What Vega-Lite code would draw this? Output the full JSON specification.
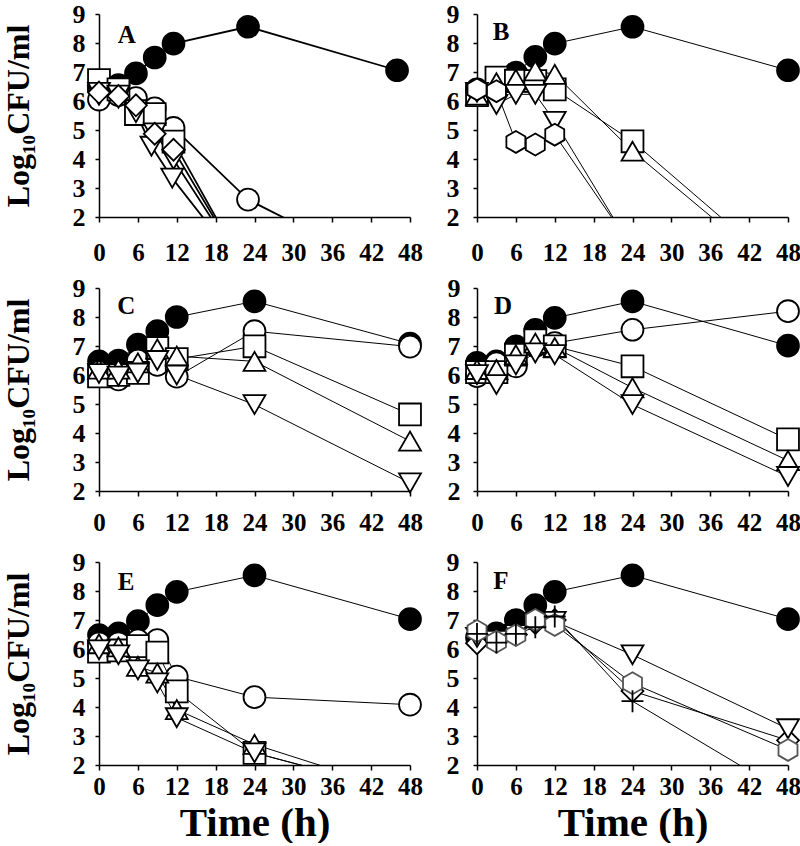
{
"$schema": "https://vega.github.io/schema/vega-lite/v6.json",
"background": "white",
"padding": {"left": 2, "top": 1, "right": 0, "bottom": 0},
"datasets": {
"pts": [
{"p":"A","s":"ctrl","t":0,"v":6.45},{"p":"A","s":"ctrl","t":3,"v":6.55},{"p":"A","s":"ctrl","t":5.7,"v":6.95},{"p":"A","s":"ctrl","t":8.6,"v":7.5},{"p":"A","s":"ctrl","t":11.5,"v":7.98},{"p":"A","s":"ctrl","t":23,"v":8.56},{"p":"A","s":"ctrl","t":46,"v":7.06},
{"p":"A","s":"circ","t":0,"v":6.05},{"p":"A","s":"circ","t":3,"v":6.2},{"p":"A","s":"circ","t":5.7,"v":6.1},{"p":"A","s":"circ","t":8.6,"v":5.75},{"p":"A","s":"circ","t":11.5,"v":5.07},{"p":"A","s":"circ","t":23,"v":2.6},{"p":"A","s":"circ","t":46,"v":0},
{"p":"A","s":"sq","t":0,"v":6.72},{"p":"A","s":"sq","t":3,"v":6.4},{"p":"A","s":"sq","t":5.7,"v":5.55},{"p":"A","s":"sq","t":8.6,"v":5.55},{"p":"A","s":"sq","t":11.5,"v":4.6},{"p":"A","s":"sq","t":23,"v":0},
{"p":"A","s":"td2","t":0,"v":6.2},{"p":"A","s":"td2","t":3,"v":6.1},{"p":"A","s":"td2","t":5.7,"v":5.7},{"p":"A","s":"td2","t":8.6,"v":4.9},{"p":"A","s":"td2","t":11.5,"v":3.98},{"p":"A","s":"td2","t":23,"v":0},
{"p":"A","s":"td","t":0,"v":6.3},{"p":"A","s":"td","t":3,"v":6.2},{"p":"A","s":"td","t":5.7,"v":5.6},{"p":"A","s":"td","t":8.1,"v":4.44},{"p":"A","s":"td","t":11.3,"v":3.34},{"p":"A","s":"td","t":23,"v":0},
{"p":"A","s":"dia","t":0,"v":6.29},{"p":"A","s":"dia","t":3,"v":6.17},{"p":"A","s":"dia","t":5.7,"v":5.85},{"p":"A","s":"dia","t":8.6,"v":4.87},{"p":"A","s":"dia","t":11.5,"v":4.32},{"p":"A","s":"dia","t":23,"v":0},

{"p":"B","s":"ctrl","t":0,"v":6.4},{"p":"B","s":"ctrl","t":3,"v":6.5},{"p":"B","s":"ctrl","t":6,"v":6.98},{"p":"B","s":"ctrl","t":9,"v":7.52},{"p":"B","s":"ctrl","t":12,"v":7.98},{"p":"B","s":"ctrl","t":24,"v":8.56},{"p":"B","s":"ctrl","t":48,"v":7.06},
{"p":"B","s":"sq","t":0,"v":6.2},{"p":"B","s":"sq","t":3,"v":6.81},{"p":"B","s":"sq","t":6,"v":6.7},{"p":"B","s":"sq","t":9,"v":6.69},{"p":"B","s":"sq","t":12,"v":6.4},{"p":"B","s":"sq","t":24,"v":4.61},{"p":"B","s":"sq","t":48,"v":0},
{"p":"B","s":"tu","t":0,"v":6.2},{"p":"B","s":"tu","t":3,"v":6.63},{"p":"B","s":"tu","t":6,"v":6.75},{"p":"B","s":"tu","t":9,"v":7.04},{"p":"B","s":"tu","t":12,"v":6.92},{"p":"B","s":"tu","t":24,"v":4.27},{"p":"B","s":"tu","t":48,"v":-0.2},
{"p":"B","s":"td","t":0,"v":6.3},{"p":"B","s":"td","t":3,"v":5.88},{"p":"B","s":"td","t":6,"v":6.23},{"p":"B","s":"td","t":9,"v":6.23},{"p":"B","s":"td","t":12,"v":5.3},{"p":"B","s":"td","t":24,"v":0.88},
{"p":"B","s":"hex","t":0,"v":6.4},{"p":"B","s":"hex","t":3,"v":6.34},{"p":"B","s":"hex","t":6,"v":4.59},{"p":"B","s":"hex","t":9,"v":4.5},{"p":"B","s":"hex","t":12,"v":4.84},{"p":"B","s":"hex","t":24,"v":0.94},

{"p":"C","s":"ctrl","t":0,"v":6.47},{"p":"C","s":"ctrl","t":3,"v":6.5},{"p":"C","s":"ctrl","t":6,"v":7.05},{"p":"C","s":"ctrl","t":9,"v":7.51},{"p":"C","s":"ctrl","t":12,"v":8.0},{"p":"C","s":"ctrl","t":24,"v":8.54},{"p":"C","s":"ctrl","t":48,"v":7.08},
{"p":"C","s":"circ","t":0,"v":6.1},{"p":"C","s":"circ","t":3,"v":5.85},{"p":"C","s":"circ","t":6,"v":6.5},{"p":"C","s":"circ","t":9,"v":6.35},{"p":"C","s":"circ","t":12,"v":5.94},{"p":"C","s":"circ","t":24,"v":7.51},{"p":"C","s":"circ","t":48,"v":6.98},
{"p":"C","s":"sq","t":0,"v":5.95},{"p":"C","s":"sq","t":3,"v":6.0},{"p":"C","s":"sq","t":6,"v":6.07},{"p":"C","s":"sq","t":9,"v":6.93},{"p":"C","s":"sq","t":12,"v":6.55},{"p":"C","s":"sq","t":24,"v":6.99},{"p":"C","s":"sq","t":48,"v":4.64},
{"p":"C","s":"tu","t":0,"v":6.2},{"p":"C","s":"tu","t":3,"v":6.2},{"p":"C","s":"tu","t":6,"v":6.42},{"p":"C","s":"tu","t":9,"v":6.9},{"p":"C","s":"tu","t":12,"v":6.65},{"p":"C","s":"tu","t":24,"v":6.47},{"p":"C","s":"tu","t":48,"v":3.72},
{"p":"C","s":"td","t":0,"v":6.05},{"p":"C","s":"td","t":3,"v":5.96},{"p":"C","s":"td","t":6,"v":6.07},{"p":"C","s":"td","t":9,"v":6.5},{"p":"C","s":"td","t":12,"v":6.0},{"p":"C","s":"td","t":24,"v":4.98},{"p":"C","s":"td","t":48,"v":2.28},

{"p":"D","s":"ctrl","t":0,"v":6.42},{"p":"D","s":"ctrl","t":3,"v":6.47},{"p":"D","s":"ctrl","t":6,"v":6.99},{"p":"D","s":"ctrl","t":9,"v":7.56},{"p":"D","s":"ctrl","t":12,"v":7.97},{"p":"D","s":"ctrl","t":24,"v":8.54},{"p":"D","s":"ctrl","t":48,"v":7.01},
{"p":"D","s":"circ","t":0,"v":5.96},{"p":"D","s":"circ","t":3,"v":6.4},{"p":"D","s":"circ","t":6,"v":6.3},{"p":"D","s":"circ","t":9,"v":7.0},{"p":"D","s":"circ","t":12,"v":7.1},{"p":"D","s":"circ","t":24,"v":7.56},{"p":"D","s":"circ","t":48,"v":8.2},
{"p":"D","s":"sq","t":0,"v":6.1},{"p":"D","s":"sq","t":3,"v":6.1},{"p":"D","s":"sq","t":6,"v":6.7},{"p":"D","s":"sq","t":9,"v":7.2},{"p":"D","s":"sq","t":12,"v":6.99},{"p":"D","s":"sq","t":24,"v":6.3},{"p":"D","s":"sq","t":48,"v":3.78},
{"p":"D","s":"tu","t":0,"v":6.19},{"p":"D","s":"tu","t":3,"v":6.19},{"p":"D","s":"tu","t":6,"v":6.7},{"p":"D","s":"tu","t":9,"v":7.1},{"p":"D","s":"tu","t":12,"v":6.95},{"p":"D","s":"tu","t":24,"v":5.56},{"p":"D","s":"tu","t":48,"v":3.05},
{"p":"D","s":"td","t":0,"v":6.01},{"p":"D","s":"td","t":3,"v":5.67},{"p":"D","s":"td","t":6,"v":6.35},{"p":"D","s":"td","t":9,"v":6.76},{"p":"D","s":"td","t":12,"v":6.7},{"p":"D","s":"td","t":24,"v":4.98},{"p":"D","s":"td","t":48,"v":2.5},

{"p":"E","s":"ctrl","t":0,"v":6.48},{"p":"E","s":"ctrl","t":3,"v":6.54},{"p":"E","s":"ctrl","t":6,"v":6.96},{"p":"E","s":"ctrl","t":9,"v":7.51},{"p":"E","s":"ctrl","t":12,"v":7.97},{"p":"E","s":"ctrl","t":24,"v":8.54},{"p":"E","s":"ctrl","t":48,"v":7.03},
{"p":"E","s":"circ","t":0,"v":6.2},{"p":"E","s":"circ","t":3,"v":6.2},{"p":"E","s":"circ","t":6,"v":6.3},{"p":"E","s":"circ","t":9,"v":6.31},{"p":"E","s":"circ","t":12,"v":5.05},{"p":"E","s":"circ","t":24,"v":4.34},{"p":"E","s":"circ","t":48,"v":4.08},
{"p":"E","s":"sq","t":0,"v":5.91},{"p":"E","s":"sq","t":3,"v":5.95},{"p":"E","s":"sq","t":6,"v":6.1},{"p":"E","s":"sq","t":9,"v":5.88},{"p":"E","s":"sq","t":12,"v":4.54},{"p":"E","s":"sq","t":24,"v":2.42},{"p":"E","s":"sq","t":48,"v":1.0},
{"p":"E","s":"tu","t":0,"v":6.18},{"p":"E","s":"tu","t":3,"v":6.07},{"p":"E","s":"tu","t":6,"v":5.4},{"p":"E","s":"tu","t":9,"v":5.17},{"p":"E","s":"tu","t":12,"v":3.91},{"p":"E","s":"tu","t":24,"v":2.71},{"p":"E","s":"tu","t":48,"v":1.0},
{"p":"E","s":"td","t":0,"v":5.97},{"p":"E","s":"td","t":3,"v":5.8},{"p":"E","s":"td","t":6,"v":5.28},{"p":"E","s":"td","t":9,"v":4.83},{"p":"E","s":"td","t":12,"v":3.63},{"p":"E","s":"td","t":24,"v":2.42},{"p":"E","s":"td","t":48,"v":1.0},

{"p":"F","s":"ctrl","t":0,"v":6.4},{"p":"F","s":"ctrl","t":3,"v":6.54},{"p":"F","s":"ctrl","t":6,"v":7.0},{"p":"F","s":"ctrl","t":9,"v":7.51},{"p":"F","s":"ctrl","t":12,"v":7.97},{"p":"F","s":"ctrl","t":24,"v":8.54},{"p":"F","s":"ctrl","t":48,"v":7.03},
{"p":"F","s":"dia","t":0,"v":6.2},{"p":"F","s":"dia","t":3,"v":6.3},{"p":"F","s":"dia","t":6,"v":6.5},{"p":"F","s":"dia","t":9,"v":6.9},{"p":"F","s":"dia","t":12,"v":7.0},{"p":"F","s":"dia","t":24,"v":4.55},{"p":"F","s":"dia","t":48,"v":2.85},
{"p":"F","s":"td","t":0,"v":6.4},{"p":"F","s":"td","t":3,"v":6.3},{"p":"F","s":"td","t":6,"v":6.5},{"p":"F","s":"td","t":9,"v":6.9},{"p":"F","s":"td","t":12,"v":6.95},{"p":"F","s":"td","t":24,"v":5.8},{"p":"F","s":"td","t":48,"v":3.25},
{"p":"F","s":"hexF","t":0,"v":6.62},{"p":"F","s":"hexF","t":3,"v":6.25},{"p":"F","s":"hexF","t":6,"v":6.48},{"p":"F","s":"hexF","t":9,"v":7.0},{"p":"F","s":"hexF","t":12,"v":6.83},{"p":"F","s":"hexF","t":24,"v":4.82},{"p":"F","s":"hexF","t":48,"v":2.52},
{"p":"F","s":"plus","t":0,"v":6.52},{"p":"F","s":"plus","t":3,"v":6.22},{"p":"F","s":"plus","t":6,"v":6.52},{"p":"F","s":"plus","t":9,"v":6.75},{"p":"F","s":"plus","t":12,"v":7.12},{"p":"F","s":"plus","t":24,"v":4.2},{"p":"F","s":"plus","t":48,"v":1.0}
],
"lab": [
{"p":"A","t":4.3,"v":8.27},{"p":"B","t":3.7,"v":8.38},{"p":"C","t":4.2,"v":8.38},{"p":"D","t":4.0,"v":8.38},{"p":"E","t":4.2,"v":8.3},{"p":"F","t":3.7,"v":8.35}
]
},
"columns": 2,
"spacing": {"row": 71, "column": 67},
"bounds": "flush",
"concat": [
{"width":311,"height":203,"data":{"name":"pts"},
 "encoding":{
  "x":{"field":"t","type":"quantitative","scale":{"domain":[0,48],"nice":false,"zero":false},"axis":{"values":[0,6,12,18,24,30,36,42,48],"title":null,"labelPadding":18}},
  "y":{"field":"v","type":"quantitative","scale":{"domain":[2,9],"nice":false,"zero":false},"axis":{"values":[2,3,4,5,6,7,8,9],"title":"Log₁₀CFU/ml","titleFontSize":32,"titlePadding":37,"labelPadding":10}}},
 "layer":[
  {"transform":[{"filter":"datum.p=='A'"}],"mark":{"type":"line","color":"black","strokeWidth":1.8,"clip":true},"encoding":{"detail":{"field":"s"},"order":{"field":"t"}}},
  {"transform":[{"filter":"datum.p=='A' && datum.v>=2"}],"mark":{"type":"point","opacity":1},
   "encoding":{
    "shape":{"field":"s","type":"nominal","legend":null,"scale":{"domain":["ctrl","circ","sq","tu","td","td2","dia","hex","hexF","plus"],"range":["circle","circle","square","triangle-up","triangle-down","triangle-down","diamond","M0,-1L0.866,-0.5L0.866,0.5L0,1L-0.866,0.5L-0.866,-0.5Z","M0,-1L0.866,-0.5L0.866,0.5L0,1L-0.866,0.5L-0.866,-0.5Z","M-1,0L1,0M0,-1L0,1"]}},
    "fill":{"field":"s","type":"nominal","legend":null,"scale":{"domain":["ctrl","circ","sq","tu","td","td2","dia","hex","hexF","plus"],"range":["black","white","white","white","white","white","white","white","white","transparent"]}},
    "stroke":{"field":"s","type":"nominal","legend":null,"scale":{"domain":["ctrl","circ","sq","tu","td","td2","dia","hex","hexF","plus"],"range":["black","black","black","black","black","black","black","black","#555555","black"]}},
    "strokeWidth":{"field":"s","type":"nominal","legend":null,"scale":{"domain":["ctrl","circ","sq","tu","td","td2","dia","hex","hexF","plus"],"range":[1.8,1.8,1.8,1.8,1.8,1.8,1.8,1.5,1,0.9]}},
    "size":{"field":"s","type":"nominal","legend":null,"scale":{"domain":["ctrl","circ","sq","tu","td","td2","dia","hex","hexF","plus"],"range":[480,480,320,450,450,450,480,480,480,50]}}}},
  {"data":{"name":"lab"},"transform":[{"filter":"datum.p=='A'"}],"mark":{"type":"text","font":"Liberation Serif","fontWeight":"bold","fontSize":25,"color":"black","align":"center","baseline":"middle"},"encoding":{"text":{"field":"p"}}}
 ]},
{"width":311,"height":203,"data":{"name":"pts"},
 "encoding":{
  "x":{"field":"t","type":"quantitative","scale":{"domain":[0,48],"nice":false,"zero":false},"axis":{"values":[0,6,12,18,24,30,36,42,48],"title":null,"labelPadding":18}},
  "y":{"field":"v","type":"quantitative","scale":{"domain":[2,9],"nice":false,"zero":false},"axis":{"values":[2,3,4,5,6,7,8,9],"title":null,"labelPadding":14}}},
 "layer":[
  {"transform":[{"filter":"datum.p=='B'"}],"mark":{"type":"line","color":"black","strokeWidth":1,"clip":true},"encoding":{"detail":{"field":"s"},"order":{"field":"t"}}},
  {"transform":[{"filter":"datum.p=='B' && datum.v>=2"}],"mark":{"type":"point","opacity":1},
   "encoding":{
    "shape":{"field":"s","type":"nominal","legend":null,"scale":{"domain":["ctrl","circ","sq","tu","td","td2","dia","hex","hexF","plus"],"range":["circle","circle","square","triangle-up","triangle-down","triangle-down","diamond","M0,-1L0.866,-0.5L0.866,0.5L0,1L-0.866,0.5L-0.866,-0.5Z","M0,-1L0.866,-0.5L0.866,0.5L0,1L-0.866,0.5L-0.866,-0.5Z","M-1,0L1,0M0,-1L0,1"]}},
    "fill":{"field":"s","type":"nominal","legend":null,"scale":{"domain":["ctrl","circ","sq","tu","td","td2","dia","hex","hexF","plus"],"range":["black","white","white","white","white","white","white","white","white","transparent"]}},
    "stroke":{"field":"s","type":"nominal","legend":null,"scale":{"domain":["ctrl","circ","sq","tu","td","td2","dia","hex","hexF","plus"],"range":["black","black","black","black","black","black","black","black","#555555","black"]}},
    "strokeWidth":{"field":"s","type":"nominal","legend":null,"scale":{"domain":["ctrl","circ","sq","tu","td","td2","dia","hex","hexF","plus"],"range":[1.5,1.5,1.5,1.5,1.5,1.5,1.5,1.5,1,0.9]}},
    "size":{"field":"s","type":"nominal","legend":null,"scale":{"domain":["ctrl","circ","sq","tu","td","td2","dia","hex","hexF","plus"],"range":[480,480,320,450,450,450,480,480,480,50]}}}},
  {"data":{"name":"lab"},"transform":[{"filter":"datum.p=='B'"}],"mark":{"type":"text","font":"Liberation Serif","fontWeight":"bold","fontSize":25,"color":"black","align":"center","baseline":"middle"},"encoding":{"text":{"field":"p"}}}
 ]},
{"width":311,"height":203,"data":{"name":"pts"},
 "encoding":{
  "x":{"field":"t","type":"quantitative","scale":{"domain":[0,48],"nice":false,"zero":false},"axis":{"values":[0,6,12,18,24,30,36,42,48],"title":null,"labelPadding":14}},
  "y":{"field":"v","type":"quantitative","scale":{"domain":[2,9],"nice":false,"zero":false},"axis":{"values":[2,3,4,5,6,7,8,9],"title":"Log₁₀CFU/ml","titleFontSize":32,"titlePadding":37,"labelPadding":10}}},
 "layer":[
  {"transform":[{"filter":"datum.p=='C'"}],"mark":{"type":"line","color":"black","strokeWidth":1,"clip":true},"encoding":{"detail":{"field":"s"},"order":{"field":"t"}}},
  {"transform":[{"filter":"datum.p=='C' && datum.v>=2"}],"mark":{"type":"point","opacity":1},
   "encoding":{
    "shape":{"field":"s","type":"nominal","legend":null,"scale":{"domain":["ctrl","circ","sq","tu","td","td2","dia","hex","hexF","plus"],"range":["circle","circle","square","triangle-up","triangle-down","triangle-down","diamond","M0,-1L0.866,-0.5L0.866,0.5L0,1L-0.866,0.5L-0.866,-0.5Z","M0,-1L0.866,-0.5L0.866,0.5L0,1L-0.866,0.5L-0.866,-0.5Z","M-1,0L1,0M0,-1L0,1"]}},
    "fill":{"field":"s","type":"nominal","legend":null,"scale":{"domain":["ctrl","circ","sq","tu","td","td2","dia","hex","hexF","plus"],"range":["black","white","white","white","white","white","white","white","white","transparent"]}},
    "stroke":{"field":"s","type":"nominal","legend":null,"scale":{"domain":["ctrl","circ","sq","tu","td","td2","dia","hex","hexF","plus"],"range":["black","black","black","black","black","black","black","black","#555555","black"]}},
    "strokeWidth":{"field":"s","type":"nominal","legend":null,"scale":{"domain":["ctrl","circ","sq","tu","td","td2","dia","hex","hexF","plus"],"range":[1.5,1.5,1.5,1.5,1.5,1.5,1.5,1.5,1,0.9]}},
    "size":{"field":"s","type":"nominal","legend":null,"scale":{"domain":["ctrl","circ","sq","tu","td","td2","dia","hex","hexF","plus"],"range":[480,480,320,450,450,450,480,480,480,50]}}}},
  {"data":{"name":"lab"},"transform":[{"filter":"datum.p=='C'"}],"mark":{"type":"text","font":"Liberation Serif","fontWeight":"bold","fontSize":25,"color":"black","align":"center","baseline":"middle"},"encoding":{"text":{"field":"p"}}}
 ]},
{"width":311,"height":203,"data":{"name":"pts"},
 "encoding":{
  "x":{"field":"t","type":"quantitative","scale":{"domain":[0,48],"nice":false,"zero":false},"axis":{"values":[0,6,12,18,24,30,36,42,48],"title":null,"labelPadding":14}},
  "y":{"field":"v","type":"quantitative","scale":{"domain":[2,9],"nice":false,"zero":false},"axis":{"values":[2,3,4,5,6,7,8,9],"title":null,"labelPadding":13}}},
 "layer":[
  {"transform":[{"filter":"datum.p=='D'"}],"mark":{"type":"line","color":"black","strokeWidth":1,"clip":true},"encoding":{"detail":{"field":"s"},"order":{"field":"t"}}},
  {"transform":[{"filter":"datum.p=='D' && datum.v>=2"}],"mark":{"type":"point","opacity":1},
   "encoding":{
    "shape":{"field":"s","type":"nominal","legend":null,"scale":{"domain":["ctrl","circ","sq","tu","td","td2","dia","hex","hexF","plus"],"range":["circle","circle","square","triangle-up","triangle-down","triangle-down","diamond","M0,-1L0.866,-0.5L0.866,0.5L0,1L-0.866,0.5L-0.866,-0.5Z","M0,-1L0.866,-0.5L0.866,0.5L0,1L-0.866,0.5L-0.866,-0.5Z","M-1,0L1,0M0,-1L0,1"]}},
    "fill":{"field":"s","type":"nominal","legend":null,"scale":{"domain":["ctrl","circ","sq","tu","td","td2","dia","hex","hexF","plus"],"range":["black","white","white","white","white","white","white","white","white","transparent"]}},
    "stroke":{"field":"s","type":"nominal","legend":null,"scale":{"domain":["ctrl","circ","sq","tu","td","td2","dia","hex","hexF","plus"],"range":["black","black","black","black","black","black","black","black","#555555","black"]}},
    "strokeWidth":{"field":"s","type":"nominal","legend":null,"scale":{"domain":["ctrl","circ","sq","tu","td","td2","dia","hex","hexF","plus"],"range":[1.5,1.5,1.5,1.5,1.5,1.5,1.5,1.5,1,0.9]}},
    "size":{"field":"s","type":"nominal","legend":null,"scale":{"domain":["ctrl","circ","sq","tu","td","td2","dia","hex","hexF","plus"],"range":[480,480,320,450,450,450,480,480,480,50]}}}},
  {"data":{"name":"lab"},"transform":[{"filter":"datum.p=='D'"}],"mark":{"type":"text","font":"Liberation Serif","fontWeight":"bold","fontSize":25,"color":"black","align":"center","baseline":"middle"},"encoding":{"text":{"field":"p"}}}
 ]},
{"width":311,"height":203,"data":{"name":"pts"},
 "encoding":{
  "x":{"field":"t","type":"quantitative","scale":{"domain":[0,48],"nice":false,"zero":false},"axis":{"values":[0,6,12,18,24,30,36,42,48],"title":"Time (h)","titleFontSize":41,"titlePadding":4,"labelPadding":4}},
  "y":{"field":"v","type":"quantitative","scale":{"domain":[2,9],"nice":false,"zero":false},"axis":{"values":[2,3,4,5,6,7,8,9],"title":"Log₁₀CFU/ml","titleFontSize":32,"titlePadding":37,"labelPadding":10}}},
 "layer":[
  {"transform":[{"filter":"datum.p=='E'"}],"mark":{"type":"line","color":"black","strokeWidth":1,"clip":true},"encoding":{"detail":{"field":"s"},"order":{"field":"t"}}},
  {"transform":[{"filter":"datum.p=='E' && datum.v>=2"}],"mark":{"type":"point","opacity":1},
   "encoding":{
    "shape":{"field":"s","type":"nominal","legend":null,"scale":{"domain":["ctrl","circ","sq","tu","td","td2","dia","hex","hexF","plus"],"range":["circle","circle","square","triangle-up","triangle-down","triangle-down","diamond","M0,-1L0.866,-0.5L0.866,0.5L0,1L-0.866,0.5L-0.866,-0.5Z","M0,-1L0.866,-0.5L0.866,0.5L0,1L-0.866,0.5L-0.866,-0.5Z","M-1,0L1,0M0,-1L0,1"]}},
    "fill":{"field":"s","type":"nominal","legend":null,"scale":{"domain":["ctrl","circ","sq","tu","td","td2","dia","hex","hexF","plus"],"range":["black","white","white","white","white","white","white","white","white","transparent"]}},
    "stroke":{"field":"s","type":"nominal","legend":null,"scale":{"domain":["ctrl","circ","sq","tu","td","td2","dia","hex","hexF","plus"],"range":["black","black","black","black","black","black","black","black","#555555","black"]}},
    "strokeWidth":{"field":"s","type":"nominal","legend":null,"scale":{"domain":["ctrl","circ","sq","tu","td","td2","dia","hex","hexF","plus"],"range":[1.5,1.5,1.5,1.5,1.5,1.5,1.5,1.5,1,0.9]}},
    "size":{"field":"s","type":"nominal","legend":null,"scale":{"domain":["ctrl","circ","sq","tu","td","td2","dia","hex","hexF","plus"],"range":[480,480,320,450,450,450,480,480,480,50]}}}},
  {"data":{"name":"lab"},"transform":[{"filter":"datum.p=='E'"}],"mark":{"type":"text","font":"Liberation Serif","fontWeight":"bold","fontSize":25,"color":"black","align":"center","baseline":"middle"},"encoding":{"text":{"field":"p"}}}
 ]},
{"width":311,"height":203,"data":{"name":"pts"},
 "encoding":{
  "x":{"field":"t","type":"quantitative","scale":{"domain":[0,48],"nice":false,"zero":false},"axis":{"values":[0,6,12,18,24,30,36,42,48],"title":"Time (h)","titleFontSize":41,"titlePadding":4,"labelPadding":4}},
  "y":{"field":"v","type":"quantitative","scale":{"domain":[2,9],"nice":false,"zero":false},"axis":{"values":[2,3,4,5,6,7,8,9],"title":null,"labelPadding":14}}},
 "layer":[
  {"transform":[{"filter":"datum.p=='F'"}],"mark":{"type":"line","color":"black","strokeWidth":1,"clip":true},"encoding":{"detail":{"field":"s"},"order":{"field":"t"}}},
  {"transform":[{"filter":"datum.p=='F' && datum.v>=2"}],"mark":{"type":"point","opacity":1},
   "encoding":{
    "shape":{"field":"s","type":"nominal","legend":null,"scale":{"domain":["ctrl","circ","sq","tu","td","td2","dia","hex","hexF","plus"],"range":["circle","circle","square","triangle-up","triangle-down","triangle-down","diamond","M0,-1L0.866,-0.5L0.866,0.5L0,1L-0.866,0.5L-0.866,-0.5Z","M0,-1L0.866,-0.5L0.866,0.5L0,1L-0.866,0.5L-0.866,-0.5Z","M-1,0L1,0M0,-1L0,1"]}},
    "fill":{"field":"s","type":"nominal","legend":null,"scale":{"domain":["ctrl","circ","sq","tu","td","td2","dia","hex","hexF","plus"],"range":["black","white","white","white","white","white","white","white","white","transparent"]}},
    "stroke":{"field":"s","type":"nominal","legend":null,"scale":{"domain":["ctrl","circ","sq","tu","td","td2","dia","hex","hexF","plus"],"range":["black","black","black","black","black","black","black","black","#555555","black"]}},
    "strokeWidth":{"field":"s","type":"nominal","legend":null,"scale":{"domain":["ctrl","circ","sq","tu","td","td2","dia","hex","hexF","plus"],"range":[1.5,1.5,1.5,1.5,1.5,1.5,1.5,1.5,1,0.9]}},
    "size":{"field":"s","type":"nominal","legend":null,"scale":{"domain":["ctrl","circ","sq","tu","td","td2","dia","hex","hexF","plus"],"range":[480,480,320,450,450,450,480,480,480,50]}}}},
  {"data":{"name":"lab"},"transform":[{"filter":"datum.p=='F'"}],"mark":{"type":"text","font":"Liberation Serif","fontWeight":"bold","fontSize":25,"color":"black","align":"center","baseline":"middle"},"encoding":{"text":{"field":"p"}}}
 ]}
],
"resolve": {"scale": {"x": "independent", "y": "independent"}},
"config": {
 "view": {"stroke": null},
 "axis": {"grid": false, "domainColor": "black", "domainWidth": 1.5, "tickColor": "black", "tickWidth": 1.5,
  "labelFont": "Liberation Serif", "labelFontWeight": "bold", "labelFontSize": 25, "labelColor": "black",
  "titleFont": "Liberation Serif", "titleFontWeight": "bold", "titleColor": "black",
  "labelFlush": false, "labelOverlap": false, "labelBound": false},
 "axisX": {"tickSize": 5},
 "axisY": {"tickSize": 4, "labelFontSize": 26}
}
}
